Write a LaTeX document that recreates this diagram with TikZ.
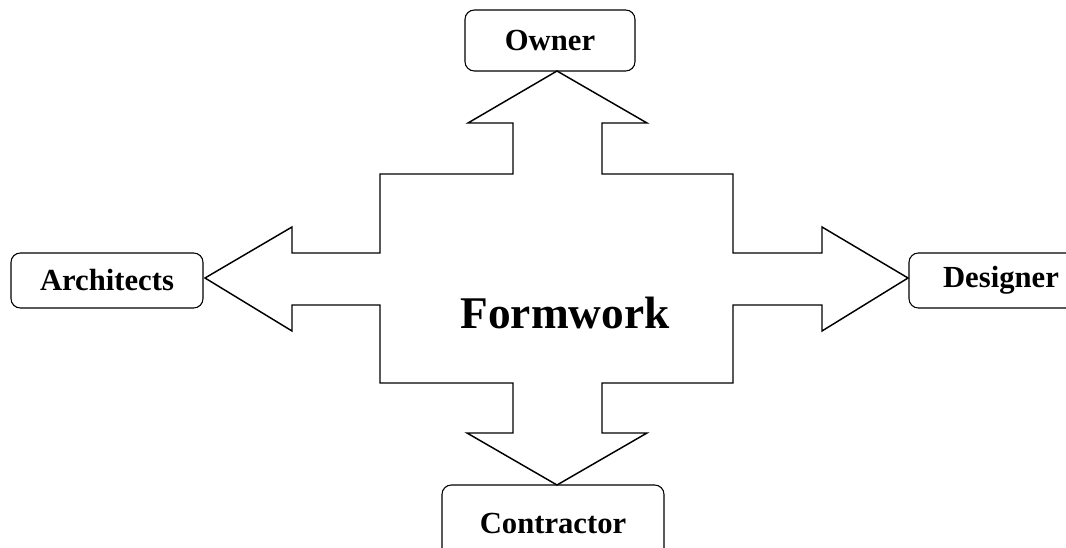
\documentclass[tikz,border=0pt]{standalone}
\usepackage{fontspec}
\setmainfont{Liberation Serif}
\usepackage{tikz}
\usetikzlibrary{positioning}

\begin{document}
\begin{tikzpicture}[x=0.75pt,y=-0.75pt,
	party/.style={shape=rectangle,draw,rounded corners=7pt,line width=0.8pt,
		font=\bfseries\fontsize{23}{27}\selectfont,inner sep=0pt},
	bigarrow/.style={draw,line width=1.1pt,line join=miter}]
	\useasboundingbox (0,0) rectangle (1066,548);

	% the four way arrow
	\draw[bigarrow] (557,71) -- (647,123) -- (602,123) -- (602,174)
		-- (733,174) -- (733,253) -- (822,253) -- (822,227) -- (908,278)
		-- (822,331) -- (822,305) -- (733,305) -- (733,383) -- (602,383)
		-- (602,433) -- (647,433) -- (557,485) -- (467,433) -- (513,433)
		-- (513,383) -- (380,383) -- (380,305) -- (292,305) -- (292,331)
		-- (205,278) -- (292,227) -- (292,253) -- (380,253) -- (380,174)
		-- (513,174) -- (513,123) -- (468,123) -- cycle;

	\node (owner) [party,minimum width=127.5pt,minimum height=45.75pt] at (550,40.5) {Owner};
	\node (architects) [party,minimum width=144pt,minimum height=41.25pt] at (107,280.5) {Architects};
	\node (designer) [party,minimum width=138pt,minimum height=41.25pt] at (1001,280.5) {Designer};
	\node (contractor) [party,minimum width=166.5pt,minimum height=57pt] at (553,523) {Contractor};

	\node (formwork) [font=\bfseries\fontsize{34}{40}\selectfont] at (565,313) {Formwork};
\end{tikzpicture}
\end{document}
